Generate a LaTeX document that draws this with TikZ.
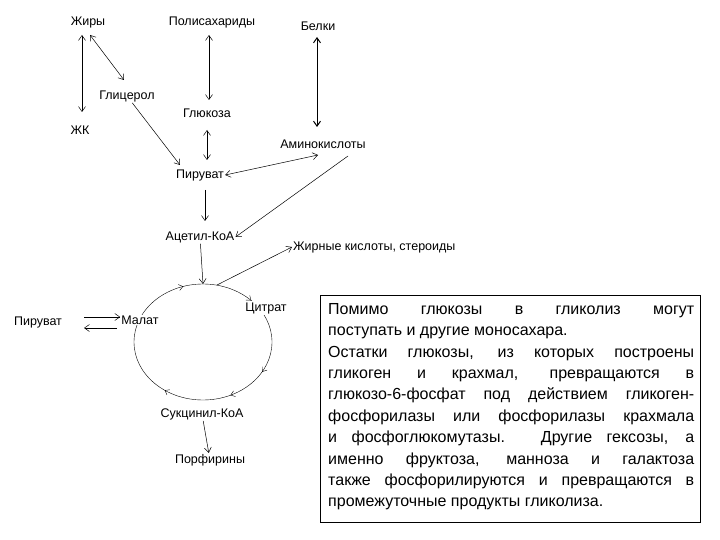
\documentclass[tikz,border=0pt]{standalone}
\usepackage{fontspec}
\setmainfont{Liberation Sans}
\usetikzlibrary{arrows.meta,decorations.markings}
\begin{document}
\begin{tikzpicture}[x=1pt,y=-1pt,
  lbl/.style={font=\fontsize{12.5}{14}\selectfont, inner sep=1pt},
  onc/.style={lbl, fill=white},
  ar/.style={-{Straight Barb[length=5pt,width=7pt]}, line width=0.5pt},
  dar/.style={{Straight Barb[length=5pt,width=7pt]}-{Straight Barb[length=5pt,width=7pt]}, line width=0.5pt}]
\useasboundingbox (0,0) rectangle (720,540);
\node[lbl] (fat) at (88,22) {Жиры};
\node[lbl] (poly) at (212,22) {Полисахариды};
\node[lbl] (prot) at (318,26) {Белки};
\node[lbl] (gly) at (127,96) {Глицерол};
\node[lbl] (glu) at (207,113) {Глюкоза};
\node[lbl] (fa) at (80,130) {ЖК};
\node[lbl] (amino) at (323,144) {Аминокислоты};
\node[lbl] (pyr) at (200,175) {Пируват};
\node[lbl] (acoa) at (200,237) {Ацетил-КоА};
\node[lbl,anchor=west] (fas) at (292,247) {Жирные кислоты, стероиды};
\node[lbl] (pyr2) at (38,322) {Пируват};
\coordinate (top) at (203,284);
\coordinate (topr) at (217,285);
\draw[postaction={decorate},decoration={markings,
  mark=at position 0.13 with {\arrow{Straight Barb[length=4pt,width=6pt]}},
  mark=at position 0.33 with {\arrow{Straight Barb[length=4pt,width=6pt]}},
  mark=at position 0.43 with {\arrow{Straight Barb[length=4pt,width=6pt]}},
  mark=at position 0.60 with {\arrow{Straight Barb[length=4pt,width=6pt]}},
  mark=at position 0.82 with {\arrow{Straight Barb[length=4pt,width=6pt]}},
  mark=at position 0.95 with {\arrow{Straight Barb[length=4pt,width=6pt]}}}]
  (203,284) arc[start angle=-90,end angle=270,x radius=69,y radius=58];
\node[onc] (mal) at (140,320) {Малат};
\node[onc] (cit) at (266,308) {Цитрат};
\node[onc] (suc) at (202,414) {Сукцинил-КоА};
\node[lbl] (por) at (210,460) {Порфирины};
\draw[dar] (82,35) -- (82,112);
\draw[dar] (90,35) -- (124,80);
\draw[dar] (209,35) -- (209,100);
\draw[dar, line width=1pt] (317,37) -- (317,127);
\draw[ar] (gly) -- (180,165);
\draw[dar] (207,130) -- (207,160);
\draw[dar] (318,155) -- (pyr.east);
\draw[ar] (348,156) -- (acoa.east);
\draw[ar] (205,190) -- (205,221);
\draw[ar] (acoa) -- (top);
\draw[ar] (topr) -- (fas.west);
\draw[ar] (84,317) -- (mal.west |- 0,317);
\draw[ar] (117,328) -- (84,328);
\draw[ar] (suc) -- (por);
\draw[line width=0.8pt] (320,295) rectangle (700,522);
\node[anchor=north west, inner sep=0pt, text width=366pt, align=justify,
  font=\fontsize{16}{21.4}\selectfont] (box) at (328,303) {%
Помимо глюкозы в гликолиз могут\linebreak
поступать и другие моносахара.\\
Остатки глюкозы, из которых построены\linebreak
гликоген и крахмал, превращаются в\linebreak
глюкозо-6-фосфат под действием гликоген-\linebreak
фосфорилазы или фосфорилазы крахмала\linebreak
и фосфоглюкомутазы. Другие гексозы, а\linebreak
именно фруктоза, манноза и галактоза\linebreak
также фосфорилируются и превращаются в\linebreak
промежуточные продукты гликолиза.};
\end{tikzpicture}
\end{document}
